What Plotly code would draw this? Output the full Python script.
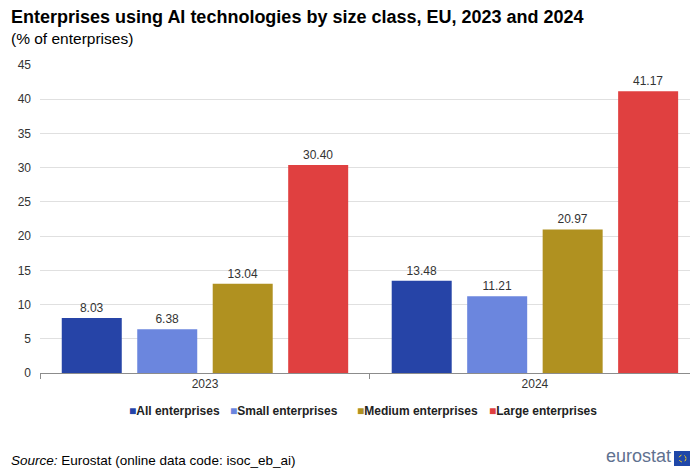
import plotly.graph_objects as go

years = ["2023", "2024"]
series_names = ["All enterprises", "Small enterprises", "Medium enterprises", "Large enterprises"]
all_ent = [8.03, 13.48]
small_ent = [6.38, 11.21]
medium_ent = [13.04, 20.97]
large_ent = [30.40, 41.17]
colors = ["#2644A7", "#6B86DE", "#B09120", "#E04040"]
y_ticks = [0, 5, 10, 15, 20, 25, 30, 35, 40, 45]

FONT = "Liberation Sans, Arial, sans-serif"

# plot area in pixels: x 40..690, y 65..373
PL, PR, PT, PB = 40, 690, 65, 373


def px_x(px):
    return (px - PL) / (PR - PL)


def px_y(py):
    return (PB - py) / (PB - PT)


fig = go.Figure()
for name, vals, col in zip(series_names, [all_ent, small_ent, medium_ent, large_ent], colors):
    fig.add_trace(go.Bar(
        name=name, x=years, y=vals, marker=dict(color=col, line=dict(width=0)),
        text=[f"{v:.2f}" for v in vals], textposition="outside",
        textfont=dict(size=12, color="#333333", family=FONT), cliponaxis=False,
        showlegend=False,
    ))

fig.update_layout(
    width=692, height=468,
    margin=dict(l=PL, r=692 - PR, t=PT, b=468 - PB),
    paper_bgcolor="white", plot_bgcolor="white",
    barmode="group", bargap=0.085, bargroupgap=0.205,
    font=dict(family=FONT, color="#333333", size=12),
    xaxis=dict(type="category", range=[-0.5, 1.47], showgrid=False,
               showline=True, linecolor="#8c8c8c", linewidth=1,
               ticks="outside", tickson="boundaries", ticklen=5, tickcolor="#8c8c8c",
               tickfont=dict(size=12, color="#333333")),
    yaxis=dict(range=[0, 45], tickvals=y_ticks, showgrid=True, gridcolor="#e0e0e0",
               gridwidth=1, zeroline=False, ticks="", ticklabelstandoff=8,
               tickfont=dict(size=12, color="#333333")),
)

# Legend drawn as a single row of coloured squares and bold labels
legend_left = [127, 228, 355, 487]
for name, col, lx in zip(series_names, colors, legend_left):
    fig.add_annotation(
        text=f"<span style='color:{col}'>■</span><b>{name}</b>",
        xref="paper", yref="paper", x=px_x(lx), y=px_y(411),
        xanchor="left", yanchor="middle", showarrow=False,
        font=dict(size=12, color="#222222", family=FONT))

# Title, subtitle and source line
fig.add_annotation(text="<b>Enterprises using AI technologies by size class, EU, 2023 and 2024</b>",
                   xref="paper", yref="paper", x=px_x(9), y=px_y(17),
                   xanchor="left", yanchor="middle", showarrow=False,
                   font=dict(size=18, color="#000000", family=FONT))
fig.add_annotation(text="(% of enterprises)", xref="paper", yref="paper",
                   x=px_x(9), y=px_y(38), xanchor="left", yanchor="middle",
                   showarrow=False, font=dict(size=15.5, color="#000000", family=FONT))
fig.add_annotation(text="<i>Source:</i> Eurostat (online data code: isoc_eb_ai)",
                   xref="paper", yref="paper", x=px_x(9), y=px_y(460),
                   xanchor="left", yanchor="middle", showarrow=False,
                   font=dict(size=13.5, color="#000000", family=FONT))

# Eurostat logo: wordmark plus flag square
fig.add_annotation(text="eurostat", xref="paper", yref="paper", x=px_x(673),
                   y=px_y(456), xanchor="right", yanchor="middle", showarrow=False,
                   font=dict(size=18, color="#5f7190", family=FONT))
fig.add_shape(type="rect", xref="paper", yref="paper",
              x0=px_x(674), x1=px_x(690), y0=px_y(466), y1=px_y(451),
              fillcolor="#1f47a8", line=dict(width=0), layer="above")
fig.add_shape(type="circle", xref="paper", yref="paper",
              x0=px_x(679), x1=px_x(686), y0=px_y(462), y1=px_y(455),
              fillcolor="rgba(0,0,0,0)", line=dict(color="#f2d21f", width=1, dash="dot"),
              layer="above")

fig.write_html("out.html")
